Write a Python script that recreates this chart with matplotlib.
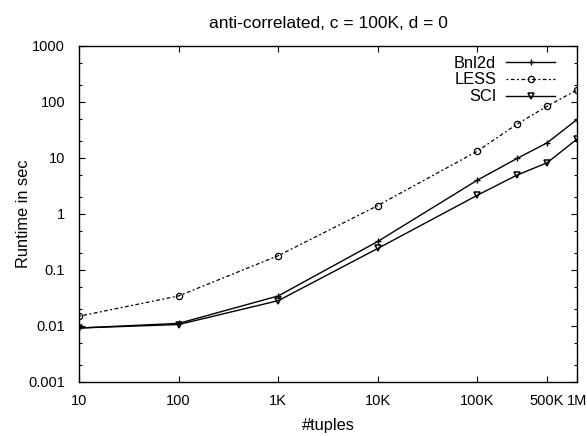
import matplotlib
matplotlib.use('Agg')
import matplotlib.pyplot as plt
from matplotlib.ticker import FixedLocator, FixedFormatter, LogLocator, NullLocator

plt.rcParams['font.family'] = ['Liberation Sans', 'DejaVu Sans']

# data
tuples = [10, 100, 1000, 10000, 100000, 250000, 500000, 1000000]
bnl2d = [0.0091, 0.011, 0.034, 0.32, 3.98, 9.7, 18.4, 48]
less = [0.0148, 0.034, 0.178, 1.40, 13.1, 39.8, 83, 162]
sci = [0.0091, 0.0105, 0.028, 0.24, 2.14, 4.9, 8.1, 21.5]

xticks = [10, 100, 1000, 10000, 100000, 500000, 1000000]
xtick_labels = ['10', '100', '1K', '10K', '100K', '500K', '1M']
yticks = [0.001, 0.01, 0.1, 1, 10, 100, 1000]
ytick_labels = ['0.001', '0.01', '0.1', '1', '10', '100', '1000']

fig = plt.figure(figsize=(5.87, 4.36), dpi=100)
ax = fig.add_axes([0.1346, 0.1245, 0.8484, 0.7707])

ax.plot(tuples, bnl2d, color='black', lw=1.0, marker='+', ms=5, mew=1.0, label='Bnl2d')
ax.plot(tuples, less, color='black', lw=0.9, dashes=(1.5, 2, 3, 2), marker='o', ms=4.5,
        mfc='none', mew=0.9, label='LESS')
ax.plot(tuples, sci, color='black', lw=1.0, marker='v', ms=4.5, mfc='none', mew=1.1, label='SCI')

ax.set_xscale('log')
ax.set_yscale('log')
ax.set_xlim(10, 1000000)
ax.set_ylim(0.001, 1000)

ax.xaxis.set_major_locator(FixedLocator(xticks))
ax.xaxis.set_major_formatter(FixedFormatter(xtick_labels))
ax.xaxis.set_minor_locator(NullLocator())
ax.yaxis.set_major_locator(FixedLocator(yticks))
ax.yaxis.set_major_formatter(FixedFormatter(ytick_labels))
ax.yaxis.set_minor_locator(LogLocator(base=10, subs=(2, 5), numticks=20))

ax.tick_params(which='both', direction='in', top=True, right=True, labelsize=10.5)
ax.tick_params(axis='y', pad=10)
ax.tick_params(axis='x', pad=9)
ax.tick_params(which='major', length=4, width=0.8)
ax.tick_params(which='minor', length=2.5, width=0.8)
for s in ax.spines.values():
    s.set_linewidth(1.0)

ax.set_title('anti-correlated, c = 100K, d = 0', fontsize=12.5, pad=13)
ax.set_xlabel('#tuples', fontsize=11.8, labelpad=7)
ax.set_ylabel('Runtime in sec', fontsize=11.8, labelpad=-2)

leg = ax.legend(loc='upper right', bbox_to_anchor=(0.976, 1.0), markerfirst=False,
                frameon=False, fontsize=11.8, handlelength=3.0, numpoints=1,
                labelspacing=0.12, borderaxespad=0.2, handletextpad=0.6)

fig.savefig('out.png', dpi=100)
